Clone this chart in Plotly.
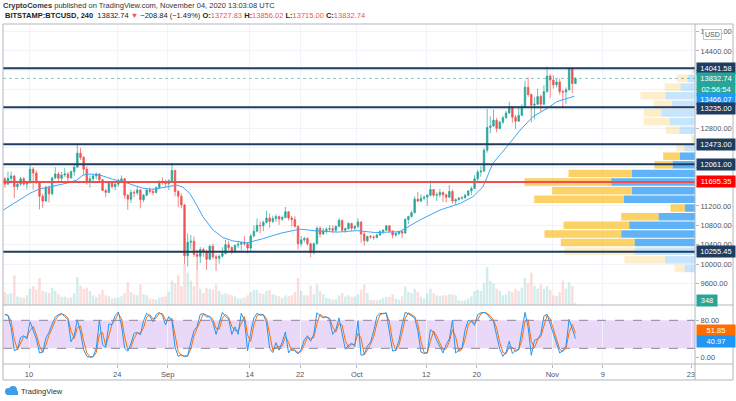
import pandas as pd
import plotly.graph_objects as go

# ---------------- DATA ----------------
# 12-hour OHLC, first bar 2020-08-06 00:00 UTC, last bar 2020-11-04 12:00 UTC
bar_start = "2020-08-06 04:00"   # centre of the first 12h bar (4h sub-bars 00,04,08)

opens = [
    11760, 11650, 11770, 11820, 11600, 11650, 11760, 11650, 11680, 11960,
    11880, 11700, 11400, 11300, 11580, 11450, 11780, 11860, 11770, 11840,
    11860, 11780, 11910, 12000, 12290, 12200, 11960, 11700, 11760, 11820,
    11860, 11740, 11520, 11480, 11680, 11600, 11650, 11720, 11760, 11420,
    11340, 11480, 11470, 11530, 11330, 11420, 11530, 11500, 11480, 11580,
    11710, 11700, 11660, 11720, 11930, 11500, 11400, 11220, 10170, 10450,
    10470, 10200, 10160, 10300, 10250, 10100, 10370, 10150, 10120, 10160,
    10220, 10400, 10340, 10260, 10390, 10410, 10440, 10420, 10330, 10580,
    10680, 10800, 10790, 10860, 10950, 10880, 10940, 10980, 10930, 10960,
    11080, 10950, 10920, 10780, 10420, 10500, 10530, 10420, 10240, 10420,
    10740, 10620, 10690, 10720, 10730, 10700, 10780, 10900, 10700, 10730,
    10840, 10740, 10780, 10870, 10620, 10480, 10570, 10560, 10550, 10600,
    10670, 10700, 10790, 10680, 10600, 10630, 10670, 10640, 10920, 10980,
    11060, 11340, 11300, 11360, 11380, 11420, 11540, 11420, 11430, 11480,
    11430, 11380, 11500, 11300, 11330, 11360, 11370, 11420, 11510, 11560,
    11760, 11900, 11920, 12350, 12820, 12850, 12970, 12800, 12930, 13020,
    13120, 13250, 13030, 12950, 13070, 13250, 13650, 13500, 13280, 13300,
    13460, 13300, 13560, 13880, 13800, 13700, 13760, 13560, 13550, 13600,
    14040, 13727.83,
]
highs = [
    11800, 11910, 11910, 11840, 11700, 11800, 11800, 11720, 12070, 12000,
    11930, 11720, 11450, 11620, 11620, 11790, 12000, 11900, 11900, 11980,
    11900, 11930, 12050, 12470, 12400, 12230, 12020, 11830, 11850, 11890,
    11880, 11760, 11560, 11690, 11710, 11680, 11760, 11830, 11780, 11450,
    11540, 11530, 11590, 11550, 11450, 11540, 11580, 11560, 11600, 11720,
    11790, 11740, 11750, 12090, 11950, 11530, 11460, 11240, 10630, 10600,
    10570, 10300, 10350, 10340, 10300, 10400, 10420, 10200, 10200, 10350,
    10500, 10480, 10370, 10390, 10480, 10460, 10580, 10440, 10620, 10800,
    10940, 10880, 10900, 11100, 11040, 11000, 11030, 11000, 11000, 11180,
    11090, 10990, 10990, 10800, 10580, 10560, 10550, 10440, 10450, 10780,
    10780, 10750, 10760, 10800, 10800, 10790, 10950, 10920, 10760, 10860,
    10850, 10800, 10950, 10880, 10660, 10590, 10600, 10590, 10620, 10700,
    10720, 10800, 10800, 10700, 10660, 10690, 10700, 10950, 11000, 11100,
    11400, 11490, 11440, 11420, 11450, 11720, 11550, 11480, 11550, 11500,
    11450, 11630, 11540, 11360, 11390, 11400, 11450, 11520, 11600, 11830,
    11950, 12020, 12400, 13200, 13050, 13190, 13020, 12960, 13060, 13160,
    13350, 13260, 13080, 13250, 13300, 13790, 13850, 13520, 13450, 13620,
    13500, 13690, 14080, 13920, 13900, 13820, 13830, 13600, 13650, 14060,
    14060, 13856.02,
]
lows = [
    11580, 11640, 11700, 11360, 11530, 11620, 11620, 11540, 11660, 11530,
    11650, 11130, 11160, 11290, 11270, 11420, 11750, 11680, 11700, 11800,
    11700, 11760, 11820, 11990, 12150, 11840, 11640, 11580, 11670, 11750,
    11700, 11510, 11380, 11470, 11560, 11520, 11600, 11700, 11350, 11120,
    11260, 11380, 11420, 11150, 11280, 11400, 11450, 11420, 11460, 11560,
    11640, 11590, 11530, 11700, 11400, 11170, 11150, 10000, 9950, 10300,
    10150, 9880, 10020, 10150, 9880, 10080, 10100, 9860, 10010, 10140,
    10200, 10280, 10200, 10240, 10330, 10280, 10380, 10220, 10270, 10550,
    10650, 10630, 10680, 10840, 10750, 10850, 10870, 10810, 10890, 10950,
    10900, 10770, 10750, 10300, 10360, 10450, 10380, 10140, 10200, 10400,
    10550, 10600, 10630, 10680, 10640, 10660, 10760, 10660, 10640, 10710,
    10680, 10700, 10740, 10440, 10380, 10450, 10520, 10500, 10530, 10580,
    10620, 10680, 10650, 10530, 10560, 10600, 10540, 10630, 10830, 10960,
    11050, 11280, 11280, 11320, 11200, 11400, 11380, 11300, 11380, 11280,
    11270, 11360, 11250, 11220, 11310, 11330, 11350, 11400, 11420, 11550,
    11690, 11800, 11900, 12300, 12700, 12830, 12720, 12780, 12890, 13000,
    13100, 12920, 12790, 12940, 13060, 13230, 13450, 12920, 12990, 13280,
    13140, 13280, 13540, 13430, 13620, 13650, 13500, 13220, 13300, 13580,
    13530, 13715.00,
]
closes = [
    11650, 11770, 11820, 11600, 11650, 11760, 11650, 11680, 11960, 11880,
    11700, 11400, 11300, 11580, 11450, 11780, 11860, 11770, 11840, 11860,
    11780, 11910, 12000, 12290, 12200, 11960, 11700, 11760, 11820, 11860,
    11740, 11520, 11480, 11680, 11600, 11650, 11720, 11760, 11420, 11340,
    11480, 11470, 11530, 11330, 11420, 11530, 11500, 11480, 11580, 11710,
    11700, 11660, 11720, 11930, 11500, 11400, 11220, 10170, 10450, 10470,
    10200, 10160, 10300, 10250, 10100, 10370, 10150, 10120, 10160, 10220,
    10400, 10340, 10260, 10390, 10410, 10440, 10420, 10330, 10580, 10680,
    10800, 10790, 10860, 10950, 10880, 10940, 10980, 10930, 10960, 11080,
    10950, 10920, 10780, 10420, 10500, 10530, 10420, 10240, 10420, 10740,
    10620, 10690, 10720, 10730, 10700, 10780, 10900, 10700, 10730, 10840,
    10740, 10780, 10870, 10620, 10480, 10570, 10560, 10550, 10600, 10670,
    10700, 10790, 10680, 10600, 10630, 10670, 10640, 10920, 10980, 11060,
    11340, 11300, 11360, 11380, 11420, 11540, 11420, 11430, 11480, 11430,
    11380, 11500, 11300, 11330, 11360, 11370, 11420, 11510, 11560, 11760,
    11900, 11920, 12350, 12820, 12850, 12970, 12800, 12930, 13020, 13120,
    13250, 13030, 12950, 13070, 13250, 13650, 13500, 13280, 13300, 13460,
    13300, 13560, 13880, 13800, 13700, 13760, 13560, 13550, 13600, 14040,
    13730, 13832.74,
]
volumes = [
    2400, 2000, 2200, 5500, 1600, 1400, 1300, 1800, 3000, 3500,
    2800, 5000, 2600, 2400, 2200, 3200, 2600, 2000, 1500, 1600,
    1300, 1400, 2200, 5200, 3500, 3000, 3200, 2600, 1800, 1500,
    2000, 2800, 1800, 1600, 1200, 1300, 1400, 1600, 2200, 4200,
    2400, 2000, 1800, 3800, 2000, 1800, 1200, 1100, 1000, 1400,
    1500, 1600, 2500, 4500, 4000, 5500, 3500, 7500, 6000, 4500,
    3500, 6500, 3000, 2200, 3200, 3000, 2800, 3800, 2600, 2000,
    2200, 2000, 1800, 1600, 1200, 1200, 1400, 1800, 2400, 2800,
    2800, 2200, 2000, 2600, 2800, 2000, 1800, 1600, 1300, 1800,
    1600, 1800, 2400, 5000, 2600, 1800, 1800, 3600, 2000, 3800,
    2600, 2000, 1300, 1200, 1000, 1100, 1800, 2200, 1600, 1800,
    1500, 1600, 2000, 2800, 3800, 2200, 1000, 900, 900, 1000,
    1300, 1500, 1500, 2000, 1200, 1000, 1600, 3400, 2400, 2200,
    3000, 2400, 1500, 1200, 2200, 3000, 2200, 1800, 1600, 1800,
    1800, 2000, 2000, 1800, 900, 800, 900, 1200, 1600, 2600,
    2800, 2600, 4000, 7000, 4500, 4000, 3000, 2600, 1800, 2000,
    2600, 2400, 3000, 2600, 3200, 5000, 4000, 6000, 3600, 3000,
    3800, 3000, 3500, 2800, 1800, 1600, 2400, 4500, 3000, 4200,
    3500, 348,
]
# Stochastic %K (blue) and %D (orange), one reading per 12h bar
stoch_k = [
    93, 90, 64, 15, 18, 43, 47, 40, 77, 57, 40, 10, 12, 42, 54, 72, 87, 92, 95, 88,
    82, 34, 47, 81, 55, 17, 3, 1, 2, 20, 80, 28, 22, 72, 71, 90, 98, 70, 20, 14,
    30, 52, 54, 49, 79, 95, 89, 77, 92, 97, 90, 70, 88, 79, 22, 3, 6, 2, 4, 33,
    58, 67, 93, 94, 87, 88, 75, 50, 72, 97, 88, 83, 50, 66, 50, 95, 80, 15, 54, 85,
    95, 91, 92, 75, 20, 11, 32, 16, 34, 55, 10, 20, 14, 8, 18, 38, 47, 35, 50, 96,
    90, 85, 88, 81, 50, 60, 85, 55, 18, 26, 31, 24, 79, 5, 7, 25, 33, 57, 88, 95,
    94, 96, 56, 14, 16, 36, 70, 97, 94, 90, 85, 58, 12, 9, 10, 60, 54, 37, 23, 10,
    28, 40, 80, 10, 16, 20, 60, 80, 78, 69, 92, 96, 97, 93, 84, 78, 47, 18, 3, 12,
    35, 9, 16, 18, 58, 97, 65, 5, 37, 40, 50, 89, 93, 72, 52, 26, 10, 15, 25, 82,
    60, 40.97,
]
stoch_d = [
    92, 91, 77, 40, 17, 30, 45, 44, 58, 67, 49, 25, 11, 27, 48, 63, 80, 90, 93, 92,
    85, 58, 41, 64, 68, 36, 10, 2, 2, 11, 50, 54, 25, 47, 72, 81, 94, 84, 45, 17,
    22, 41, 53, 52, 64, 87, 92, 83, 85, 95, 94, 80, 79, 84, 51, 13, 5, 4, 3, 19,
    46, 63, 80, 94, 91, 88, 82, 63, 61, 85, 93, 86, 67, 58, 58, 73, 88, 48, 35, 70,
    90, 93, 92, 84, 48, 16, 22, 24, 25, 45, 33, 15, 17, 11, 13, 28, 43, 41, 43, 73,
    93, 88, 87, 85, 66, 55, 73, 70, 37, 22, 29, 28, 52, 42, 6, 16, 29, 45, 73, 92,
    95, 95, 76, 35, 15, 26, 53, 84, 96, 92, 88, 72, 35, 11, 10, 35, 57, 46, 30, 17,
    19, 34, 60, 45, 13, 18, 40, 70, 79, 74, 81, 94, 97, 95, 89, 81, 63, 33, 11, 8,
    24, 22, 13, 17, 38, 78, 81, 35, 21, 39, 45, 70, 91, 83, 62, 39, 18, 13, 20, 54,
    71, 51.85,
]
# Moving average (blue line) read at points along the curve
ma_times = [
    "2020-08-05 22:00", "2020-08-08 01:00", "2020-08-10 05:00", "2020-08-11 17:00",
    "2020-08-13 07:00", "2020-08-16 00:00", "2020-08-17 14:00", "2020-08-18 14:00",
    "2020-08-19 16:00", "2020-08-21 06:00", "2020-08-23 07:00", "2020-08-24 22:00",
    "2020-08-26 12:00", "2020-08-28 02:00", "2020-08-29 17:00", "2020-08-31 22:00",
    "2020-09-02 12:00", "2020-09-03 10:00", "2020-09-04 12:00", "2020-09-05 14:00",
    "2020-09-06 14:00", "2020-09-08 05:00", "2020-09-09 19:00", "2020-09-11 10:00",
    "2020-09-13 14:00", "2020-09-16 00:00", "2020-09-19 00:00", "2020-09-22 00:00",
    "2020-09-25 00:00", "2020-09-28 00:00", "2020-10-01 00:00", "2020-10-04 00:00",
    "2020-10-07 19:00", "2020-10-11 00:00", "2020-10-14 05:00", "2020-10-17 10:00",
    "2020-10-19 10:00", "2020-10-21 00:00", "2020-10-22 14:00", "2020-10-24 19:00",
    "2020-10-26 22:00", "2020-10-28 22:00", "2020-10-31 05:00", "2020-11-01 17:00",
    "2020-11-03 07:00", "2020-11-04 12:00",
]
ma_values = [
    11115, 11288, 11466, 11550, 11596, 11670, 11735, 11838,
    11860, 11838, 11750, 11700, 11632, 11564, 11544, 11596,
    11632, 11585, 11460, 11220, 10978, 10700, 10545, 10476,
    10440, 10520, 10640, 10720, 10680, 10660, 10690, 10650,
    10669, 10910, 11117, 11254, 11391, 11597, 12080, 12423,
    12767, 13042, 13216, 13353, 13422, 13466.07,
]
# Visible-range volume profile: row centre prices, up (blue) / down (yellow) volume
vp_price = [
    9909, 10087, 10266, 10444, 10622, 10801, 10979, 11157, 11336, 11514, 11692, 11871,
    12049, 12227, 12406, 12584, 12762, 12941, 13119, 13297, 13476, 13654, 13832, 14011,
]
vp_up = [10.2, 29.8, 60.5, 60.5, 73.8, 65.8, 36.5, 10.2, 71.2, 63.2, 83.8, 63.2,
         22.5, 15.2, 10.5, 1.5, 15.5, 25.5, 33.5, 22.8, 29.5, 14.5, 7.2, 1.5]
vp_down = [10.3, 40.7, 70.0, 73.7, 76.7, 65.7, 37.3, 14.3, 89.6, 79.6, 86.7, 63.3,
           18.0, 16.6, 8.0, 1.5, 13.7, 25.7, 17.7, 18.4, 25.0, 15.7, 10.6, 1.0]
vp_in_value_area = [False, False, False, True, True, True, True, True, True, True, True, True,
                    True, True, False, False, False, False, False, False, False, False, False, False]
# Horizontal levels drawn on the chart
level_lines = [14041.58, 13235.00, 12473.00, 12061.00, 10255.45]
red_level = 11695.35
last_price = 13832.74
ma_last = 13466.07
stoch_k_last, stoch_d_last = 40.97, 51.85
last_volume_text = "348"
countdown_text = "02:56:54"
price_ticks = [9600, 10000, 10400, 10800, 11200, 11600, 12000, 12400, 12800,
               13200, 13600, 14000, 14400, 14800]
hidden_price_ticks = [11600, 12000, 12400, 13200, 13600, 14000]   # covered by level labels
date_ticks = ["2020-08-10", "2020-08-24", "2020-09-01", "2020-09-14", "2020-09-22",
              "2020-10-01", "2020-10-12", "2020-10-20", "2020-11-01", "2020-11-09",
              "2020-11-23"]
date_tick_text = ["10", "24", "Sep", "14", "22", "Oct", "12", "20", "Nov", "9", "23"]

# ---------------- LAYOUT HELPERS ----------------
W, H = 736, 401
ML, MR, MT, MB = 3, 41, 24, 37
PW, PH = W - ML - MR, H - MT - MB
SPLIT = (H - MB - 305) / PH          # pane separator at y=305 px


def fx(px):
    return (px - ML) / PW


def fy(py):
    return (H - MB - py) / PH


UP, DOWN = "#26a69a", "#ef5350"
NAVY = "#1e3d5f"
FRAME = "#b2b5be"
TXT = "#50535e"
FONT = "Liberation Sans, Arial, sans-serif"

t = pd.date_range(bar_start, periods=len(closes), freq="12h")

fig = go.Figure()

# volume (faint, bottom of main pane)
vol_colors = ["rgba(38,166,154,0.2)" if c >= o else "rgba(239,83,80,0.2)"
              for o, c in zip(opens, closes)]
fig.add_trace(go.Bar(x=t, y=volumes, marker=dict(color=vol_colors, line_width=0),
                     xaxis="x", yaxis="y3", hoverinfo="skip"))

# candles
fig.add_trace(go.Candlestick(
    x=t, open=opens, high=highs, low=lows, close=closes,
    increasing=dict(line=dict(color=UP, width=0.7), fillcolor=UP),
    decreasing=dict(line=dict(color=DOWN, width=0.7), fillcolor=DOWN),
    whiskerwidth=0, xaxis="x", yaxis="y", hoverinfo="skip"))

# moving average
fig.add_trace(go.Scatter(x=ma_times, y=ma_values, mode="lines",
                         line=dict(color="#42a5f5", width=1), xaxis="x", yaxis="y",
                         hoverinfo="skip"))

# volume profile (anchored on the right edge)
up_cols = ["rgba(33,150,243,0.72)" if v else "rgba(33,150,243,0.25)" for v in vp_in_value_area]
dn_cols = ["rgba(251,192,45,0.72)" if v else "rgba(251,192,45,0.25)" for v in vp_in_value_area]
fig.add_trace(go.Bar(y=vp_price, x=vp_up, orientation="h", width=155,
                     marker=dict(color=up_cols, line_width=0), xaxis="x2", yaxis="y",
                     hoverinfo="skip"))
fig.add_trace(go.Bar(y=vp_price, x=vp_down, base=vp_up, orientation="h", width=155,
                     marker=dict(color=dn_cols, line_width=0), xaxis="x2", yaxis="y",
                     hoverinfo="skip"))

# stochastic
fig.add_trace(go.Scatter(x=t, y=stoch_d, mode="lines", line=dict(color="#ff6d00", width=1),
                         xaxis="x", yaxis="y2", hoverinfo="skip"))
fig.add_trace(go.Scatter(x=t, y=stoch_k, mode="lines", line=dict(color="#2196f3", width=1),
                         xaxis="x", yaxis="y2", hoverinfo="skip"))

shapes = []
# stochastic band
shapes.append(dict(type="rect", xref="paper", yref="y2", x0=0, x1=1, y0=20, y1=80,
                   fillcolor="#ead8f8", line_width=0, layer="below"))
for lv in (20, 80):
    shapes.append(dict(type="line", xref="paper", yref="y2", x0=0, x1=1, y0=lv, y1=lv,
                       line=dict(color="#8d8599", width=1, dash="dash"), layer="above"))
# price levels
for lv in level_lines:
    shapes.append(dict(type="line", xref="paper", yref="y", x0=0, x1=1, y0=lv, y1=lv,
                       line=dict(color=NAVY, width=2), layer="above"))
shapes.append(dict(type="line", xref="paper", yref="y", x0=0, x1=1, y0=red_level, y1=red_level,
                   line=dict(color="#f44b4b", width=2), layer="above"))
shapes.append(dict(type="line", xref="paper", yref="y", x0=0, x1=1, y0=last_price, y1=last_price,
                   line=dict(color="rgba(38,166,154,0.6)", width=1, dash="dot"), layer="above"))


# frame / separators
def hline_px(y, x0=3, x1=733):
    return dict(type="line", xref="paper", yref="paper", x0=fx(x0), x1=fx(x1), y0=fy(y), y1=fy(y),
                line=dict(color=FRAME, width=1), layer="above")


def vline_px(x, y0=24, y1=380):
    return dict(type="line", xref="paper", yref="paper", x0=fx(x), x1=fx(x), y0=fy(y0), y1=fy(y1),
                line=dict(color=FRAME, width=1), layer="above")


shapes += [hline_px(24), hline_px(380), hline_px(305), hline_px(364),
           vline_px(3), vline_px(733), vline_px(695)]
# TradingView logo glyph
shapes.append(dict(type="circle", xref="paper", yref="paper", x0=fx(5), x1=fx(12), y0=fy(388), y1=fy(395),
                   fillcolor="#3f9ceb", line_width=0))
shapes.append(dict(type="circle", xref="paper", yref="paper", x0=fx(9), x1=fx(17), y0=fy(386), y1=fy(394),
                   fillcolor="#3f9ceb", line_width=0))
shapes.append(dict(type="rect", xref="paper", yref="paper", x0=fx(7), x1=fx(18), y0=fy(391), y1=fy(395),
                   fillcolor="#3f9ceb", line_width=0))

annotations = []


def label(y, text, bg, yref="y", yshift=0, width=36):
    annotations.append(dict(x=fx(696), xref="paper", y=y, yref=yref, yshift=yshift,
                            xanchor="left", yanchor="middle", text=text, showarrow=False,
                            font=dict(size=7.5, color="white", family=FONT), bgcolor=bg,
                            width=width, height=9, borderpad=1, align="center"))


label(level_lines[0], f"{level_lines[0]:.2f}", NAVY)
label(last_price, f"{last_price:.2f}", "#26a69a")
label(last_price, countdown_text, "#26a69a", yshift=-11)
label(ma_last, f"{ma_last:.2f}", "#2196f3", yshift=-3)
label(level_lines[1], f"{level_lines[1]:.2f}", NAVY, yshift=-1)
label(level_lines[2], f"{level_lines[2]:.2f}", NAVY)
label(level_lines[3], f"{level_lines[3]:.2f}", NAVY)
label(red_level, f"{red_level:.2f}", "#ff0000")
label(level_lines[4], f"{level_lines[4]:.2f}", NAVY)
label(fy(300.5), last_volume_text, "#26a69a", yref="paper", width=18)
label(stoch_d_last, f"{stoch_d_last:.2f}", "#ff6d00", yref="y2", yshift=3)
label(stoch_k_last, f"{stoch_k_last:.2f}", "#2196f3", yref="y2", yshift=-3)

# USD box
annotations.append(dict(x=fx(712), xref="paper", y=fy(34), yref="paper", text="USD", showarrow=False,
                        xanchor="center", yanchor="middle", font=dict(size=7, color=TXT, family=FONT),
                        bgcolor="white", bordercolor="#c4c7cf", borderwidth=1, borderpad=1))
# header
red = "#ef5350"
line1 = "<b>CryptoComes</b> published on TradingView.com, November 04, 2020 13:03:08 UTC"
line2 = ("<b>BITSTAMP:BTCUSD, 240</b>&nbsp; 13832.74 <span style='color:%s'>▼</span> −208.84 (−1.49%%) "
         "<b>O:</b><span style='color:%s'>13727.83</span> <b>H:</b><span style='color:%s'>13856.02</span> "
         "<b>L:</b><span style='color:%s'>13715.00</span> <b>C:</b><span style='color:%s'>13832.74</span>"
         % (red, red, red, red, red))
annotations.append(dict(x=fx(1), xref="paper", y=fy(6), yref="paper", text=line1, showarrow=False,
                        xanchor="left", yanchor="middle", font=dict(size=7.5, color="#333333", family=FONT)))
annotations.append(dict(x=fx(3), xref="paper", y=fy(15.5), yref="paper", text=line2, showarrow=False,
                        xanchor="left", yanchor="middle", font=dict(size=7.5, color="#222222", family=FONT)))
annotations.append(dict(x=fx(19), xref="paper", y=fy(391), yref="paper", text="TradingView", showarrow=False,
                        xanchor="left", yanchor="middle", font=dict(size=7.5, color="#2a2e39", family=FONT)))

fig.update_layout(
    width=W, height=H, margin=dict(l=ML, r=MR, t=MT, b=MB, autoexpand=False),
    paper_bgcolor="white", plot_bgcolor="white", showlegend=False, barmode="overlay",
    font=dict(family=FONT, size=7.5, color=TXT),
    shapes=shapes, annotations=annotations,
    xaxis=dict(type="date", range=["2020-08-05 21:02", "2020-11-23 15:06"], domain=[0, 1], anchor="y2",
               tickvals=date_ticks, ticktext=date_tick_text, showgrid=True, gridcolor="#f0f3fa",
               ticks="outside", ticklen=3, tickcolor=FRAME, showline=False, zeroline=False,
               rangeslider=dict(visible=False), tickfont=dict(size=7.5, color=TXT), automargin=False),
    xaxis2=dict(overlaying="x", anchor="y", domain=[0, 1], range=[PW, 0], visible=False),
    yaxis=dict(domain=[SPLIT, 1], range=[9155, 14956], side="right", tickvals=price_ticks,
               ticktext=["" if v in hidden_price_ticks else f"{v:.2f}" for v in price_ticks],
               showgrid=True, gridcolor="#f0f3fa",
               ticks="outside", ticklen=3, tickcolor=FRAME, zeroline=False, showline=False,
               tickfont=dict(size=7.5, color=TXT), automargin=False),
    yaxis2=dict(domain=[0, SPLIT], range=[-13.6, 112.8], side="right", tickvals=[0, 80],
                ticktext=["0.00", "80.00"], showgrid=False, ticks="outside", ticklen=3, tickcolor=FRAME,
                zeroline=False, showline=False, tickfont=dict(size=7.5, color=TXT), automargin=False),
    yaxis3=dict(overlaying="y", range=[0, 52000], visible=False),
)

fig.write_html("out.html", config={"displayModeBar": False, "staticPlot": True},
               post_script="document.body.style.margin='0';document.body.style.overflow='hidden';")
